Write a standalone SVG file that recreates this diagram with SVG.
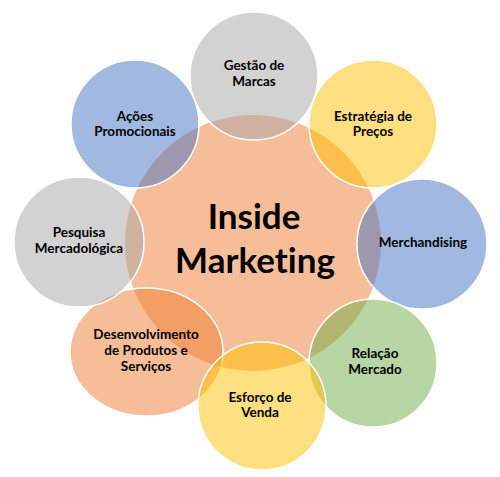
<svg xmlns="http://www.w3.org/2000/svg" width="500" height="477" viewBox="0 0 500 477">
<style>
.c{stroke:#ffffff;stroke-width:1.5;}
.gray{fill:#a5a5a5;fill-opacity:0.5;}
.blue{fill:#4472c4;fill-opacity:0.5;}
.yellow{fill:#ffc000;fill-opacity:0.5;}
.green{fill:#70ad47;fill-opacity:0.5;}
.orange{fill:#ed7d31;fill-opacity:0.5;}
text{font-variant-ligatures:none;font-feature-settings:"liga" 0;}
.t{font-family:Lato,"Liberation Sans",sans-serif;font-weight:bold;font-size:13.5px;fill:#000;text-anchor:middle;}
.big{font-family:Lato,"Liberation Sans",sans-serif;font-weight:bold;font-size:35px;fill:#000;text-anchor:middle;}
</style>
<rect width="500" height="477" fill="#ffffff"/>
<g id="center">
<circle cx="253" cy="243" r="128" class="orange"/>
</g>
<g id="gestao">
<circle cx="254" cy="76" r="64" class="c gray"/>
<text class="t" x="254" y="70">Gestão de</text>
<text class="t" x="254" y="86">Marcas</text>
</g>
<g id="estrategia">
<circle cx="373" cy="124" r="64" class="c yellow"/>
<text class="t" x="373" y="121">Estratégia de</text>
<text class="t" x="373" y="136">Preços</text>
</g>
<g id="merchandising">
<circle cx="422" cy="244" r="65" class="c blue"/>
<text class="t" x="423" y="247">Merchandising</text>
</g>
<g id="relacao">
<circle cx="373" cy="363" r="64" class="c green"/>
<text class="t" x="375" y="358">Relação</text>
<text class="t" x="375" y="374">Mercado</text>
</g>
<g id="desenvolvimento">
<ellipse cx="146.5" cy="352" rx="76.5" ry="64" class="c orange"/>
<text class="t" x="146" y="339">Desenvolvimento</text>
<text class="t" x="146" y="355">de Produtos e</text>
<text class="t" x="146" y="371">Serviços</text>
</g>
<g id="esforco">
<circle cx="262" cy="406" r="64" class="c yellow"/>
<text class="t" x="260" y="402">Esforço de</text>
<text class="t" x="260" y="417">Venda</text>
</g>
<g id="pesquisa">
<circle cx="79" cy="242" r="65" class="c gray"/>
<text class="t" x="79" y="237">Pesquisa</text>
<text class="t" x="79" y="253">Mercadológica</text>
</g>
<g id="acoes">
<circle cx="135" cy="124" r="64" class="c blue"/>
<text class="t" x="135" y="121">Ações</text>
<text class="t" x="135" y="136">Promocionais</text>
</g>
<g id="title">
<text class="big" x="254" y="229">Inside</text>
<text class="big" x="255" y="273">Marketing</text>
</g>
<g id="connectors"/>
</svg>
